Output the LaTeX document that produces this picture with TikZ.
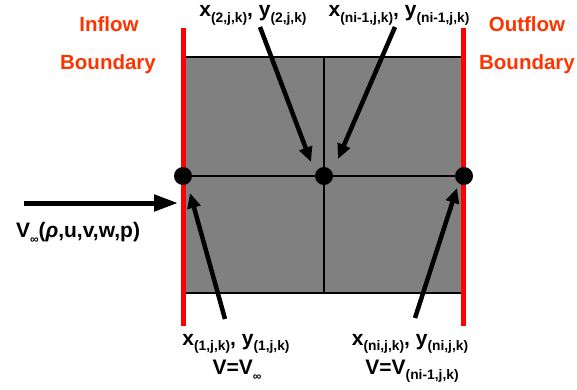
\documentclass[tikz,border=0pt]{standalone}
\usepackage{fontspec}
\setmainfont{Liberation Sans}
\usetikzlibrary{arrows.meta}
\definecolor{bndtext}{RGB}{255,51,0}
\definecolor{cellgray}{RGB}{128,128,128}
\newcommand\sbs[1]{\raisebox{-0.28em}{\fontsize{13.8}{14}\selectfont #1}}
\newcommand\sbinf{\raisebox{-0.32em}{\fontsize{12}{12}\selectfont\symbol{"221E}}}
\begin{document}
\begin{tikzpicture}[x=1pt,y=-1pt,
  font=\fontsize{21}{25}\selectfont\bfseries,
  lbl/.style={inner sep=0pt,anchor=base},
  bndlbl/.style={lbl,text=bndtext,font=\fontsize{20.5}{24}\selectfont\bfseries},
  dot/.style={circle,fill=black,inner sep=0pt,minimum size=18pt},
  gridline/.style={line width=2pt,black},
  wall/.style={line width=5pt,red},
  ptr/.style={line width=4.5pt,-{Triangle[length=15pt,width=13pt]}},
  bigptr/.style={line width=5pt,-{Triangle[length=24pt,width=16pt]}}]
\useasboundingbox (0,0) rectangle (577,390);
% cells
\fill[cellgray] (183,57.5) rectangle (463,293);
\draw[gridline] (183,57.5) -- (463,57.5);
\draw[gridline] (183,293) -- (463,293);
\draw[gridline] (324,57.5) -- (324,293);
\draw[gridline] (183,176) -- (463,176);
% boundaries
\draw[wall] (183,28) -- (183,326);
\draw[wall] (463,28) -- (463,326);
% grid points
\node[dot] (p1) at (183,176) {};
\node[dot] (p2) at (324,176) {};
\node[dot] (p3) at (464,176) {};
% boundary labels
\node[bndlbl] (in1) at (109,32) {Inflow};
\node[bndlbl] (in2) at (108,70) {Boundary};
\node[bndlbl] (out1) at (527,32) {Outflow};
\node[bndlbl] (out2) at (527,70) {Boundary};
% point labels
\node[lbl] (t1) at (253,17) {x\sbs{(2,j,k)}, y\sbs{(2,j,k)}};
\node[lbl] (t2) at (399,17) {x\sbs{(ni-1,j,k)}, y\sbs{(ni-1,j,k)}};
\node[lbl] (b1) at (236,345) {x\sbs{(1,j,k)}, y\sbs{(1,j,k)}};
\node[lbl] (b1v) at (237,374) {V=V\sbinf};
\node[lbl] (b2) at (410,345) {x\sbs{(ni,j,k)}, y\sbs{(ni,j,k)}};
\node[lbl] (b2v) at (412,374) {V=V\sbs{(ni-1,j,k)}};
\node[lbl] (vin) at (78,237) {V\sbinf(\textit{ρ},u,v,w,p)};
% arrow ends
\coordinate (a1s) at (260,27);  \coordinate (a1e) at (311,162);
\coordinate (a2s) at (395,27);  \coordinate (a2e) at (338,159);
\coordinate (a3s) at (225,319); \coordinate (a3e) at (190,193);
\coordinate (a4s) at (415,318); \coordinate (a4e) at (457,188);
\coordinate (hs) at (24,203);   \coordinate (he) at (178,203);
\draw[ptr] (a1s) -- (a1e);
\draw[ptr] (a2s) -- (a2e);
\draw[ptr] (a3s) -- (a3e);
\draw[ptr] (a4s) -- (a4e);
\draw[bigptr] (hs) -- (he);
\end{tikzpicture}
\end{document}
